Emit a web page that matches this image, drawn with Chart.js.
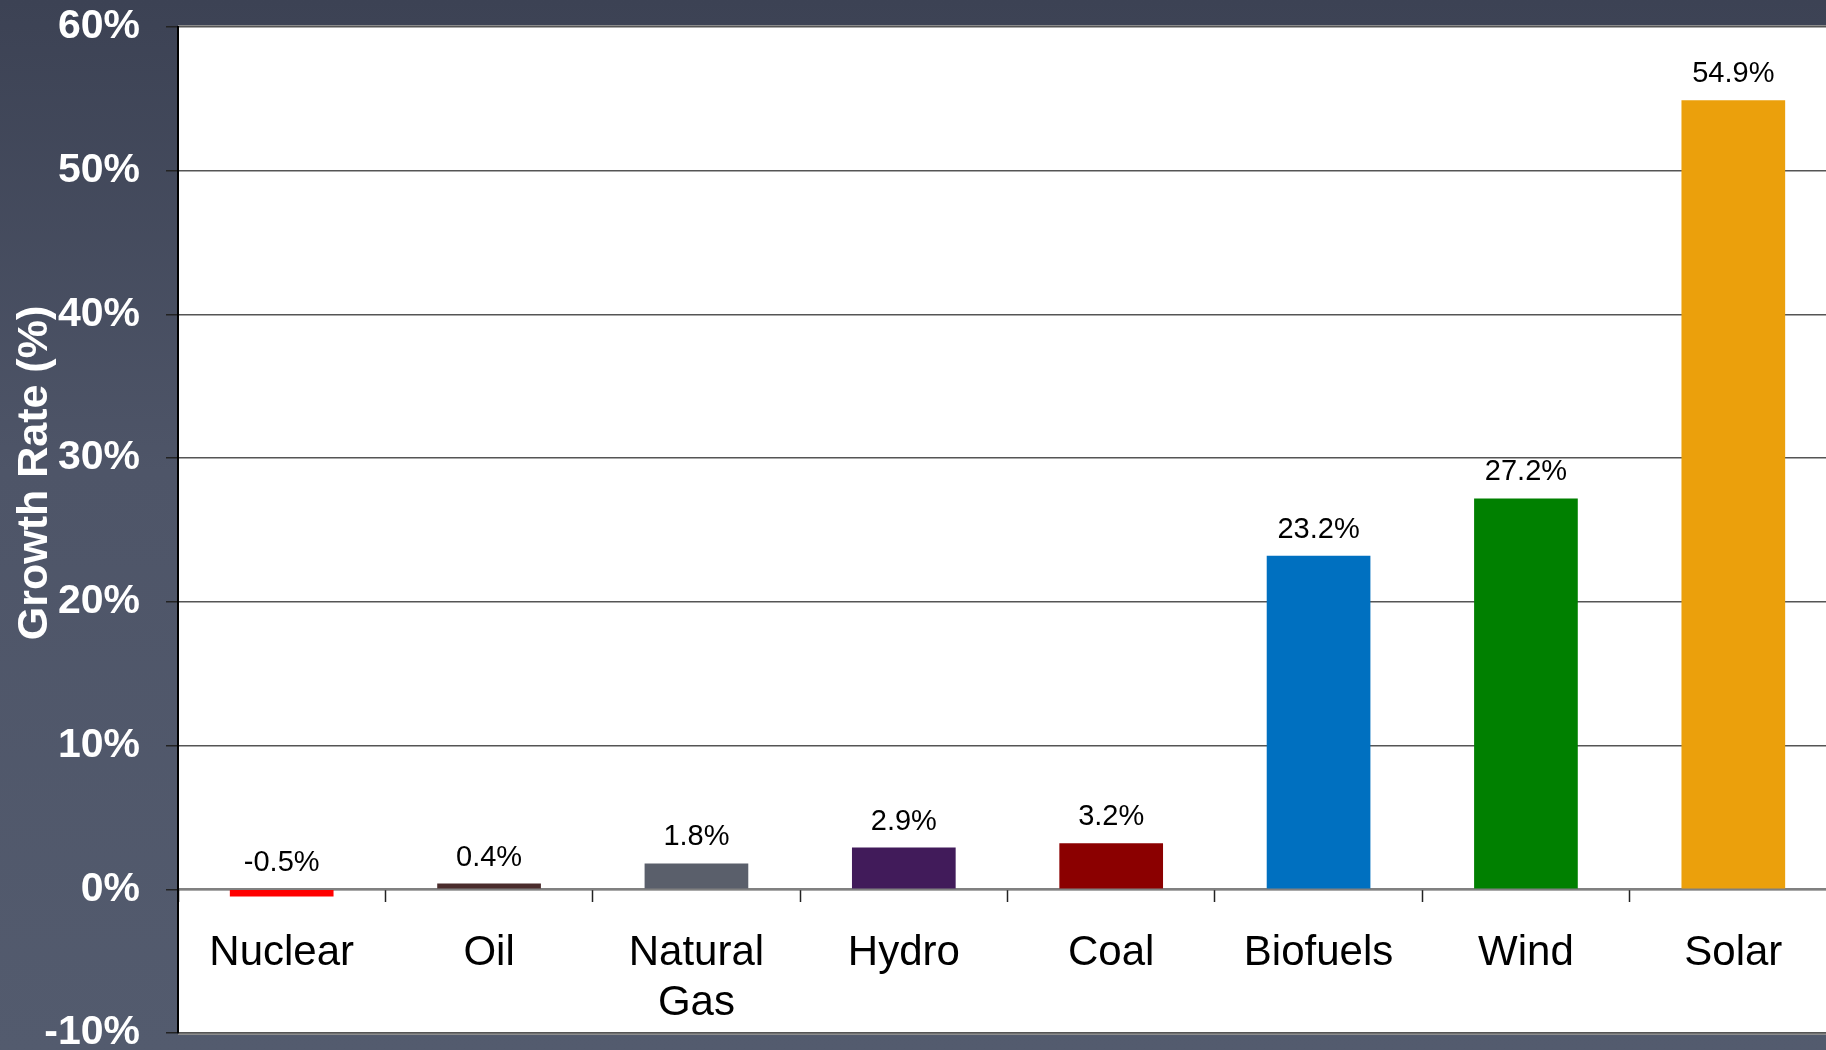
<!DOCTYPE html>
<html>
<head>
<meta charset="utf-8">
<script src="https://cdn.jsdelivr.net/npm/chart.js@4.4.1/dist/chart.umd.min.js"></script>
<style>
  html, body { margin: 0; padding: 0; background: #3e4456; overflow: hidden; }
  /* plot box runs a little past the right edge of the window, as in the source slide */
  #wrap { width: 1837px; height: 1050px; }
</style>
</head>
<body>
<div id="wrap"><canvas id="growth-chart"></canvas></div>
<script>
// data
var categories = ["Nuclear", "Oil", ["Natural", "Gas"], "Hydro", "Coal", "Biofuels", "Wind", "Solar"];
var growthRates = [-0.5, 0.4, 1.8, 2.9, 3.2, 23.2, 27.2, 54.9];
var barColors = ["#ff0000", "#4a2c2c", "#5a5f6b", "#411b5a", "#8b0000", "#0070c0", "#008000", "#eba00c"];
var yTickValues = [-10, 0, 10, 20, 30, 40, 50, 60];
var yTitle = "Growth Rate (%)";

var FONT = "'Liberation Sans', Arial, sans-serif";

var backdrop = {
    id: 'backdrop',
    beforeDraw: function (chart) {
        var c = chart.ctx, a = chart.chartArea;
        c.save();
        var g = c.createLinearGradient(0, 0, 0, chart.height);
        g.addColorStop(0, '#3c4254');
        g.addColorStop(0.45, '#4e5568');
        g.addColorStop(1, '#535b6e');
        c.fillStyle = g;
        c.fillRect(0, 0, chart.width, chart.height);
        c.fillStyle = '#ffffff';
        c.fillRect(a.left, a.top, a.right - a.left, a.bottom - a.top);
        // soft edge lines on top and bottom of the plot box
        c.fillStyle = '#8c8c8c';
        c.fillRect(a.left, a.top - 2, a.right - a.left, 2);
        c.fillRect(a.left, a.bottom, a.right - a.left, 2);
        c.restore();
    },
    afterDraw: function (chart) {
        var c = chart.ctx;
        var x = chart.scales.x, y = chart.scales.y;
        c.save();
        // value labels above each bar
        c.fillStyle = '#000';
        c.font = '29px ' + FONT;
        c.textAlign = 'center';
        c.textBaseline = 'middle';
        growthRates.forEach(function (v, i) {
            var top = y.getPixelForValue(Math.max(v, 0));
            c.fillText(v.toFixed(1) + '%', x.getPixelForValue(i), top - 26);
        });
        // rotated axis title
        c.translate(35, 473);
        c.rotate(-Math.PI / 2);
        c.fillStyle = '#fff';
        c.font = 'bold 43px ' + FONT;
        c.fillText(yTitle, 0, 0);
        c.restore();
    }
};

var ctx = document.getElementById('growth-chart');

var growthChart = new Chart(ctx, {
    type: 'bar',
    data: {
        labels: categories,
        datasets: [
            {
                label: 'Growth Rate',
                data: growthRates,
                backgroundColor: barColors,
                borderWidth: 0,
                categoryPercentage: 1,
                barPercentage: 0.5
            }
        ]
    },
    options: {
        responsive: true,
        maintainAspectRatio: false,
        animation: false,
        layout: { padding: { top: 27, bottom: 17, left: 0, right: 0 } },
        plugins: {
            legend: { display: false },
            tooltip: { enabled: false }
        },
        scales: {
            x: {
                position: { y: 0 },
                grid: {
                    offset: true,
                    drawOnChartArea: false,
                    drawTicks: true,
                    tickLength: 12,
                    tickColor: '#222',
                    tickWidth: 1.5
                },
                border: { color: '#808080', width: 2 },
                ticks: {
                    color: '#000',
                    font: { family: FONT, size: 42, lineHeight: 1.2 },
                    padding: 27,
                    maxRotation: 0,
                    autoSkip: false
                }
            },
            y: {
                min: -10,
                max: 60,
                afterBuildTicks: function (scale) {
                    scale.ticks = yTickValues.map(function (v) { return { value: v }; });
                },
                afterFit: function (scale) {
                    scale.width = 178;
                    scale.paddingTop = 0;
                    scale.paddingBottom = 0;
                },
                grid: {
                    color: '#555',
                    lineWidth: 1.5,
                    tickLength: 12,
                    tickColor: '#222'
                },
                border: { color: '#000', width: 2 },
                ticks: {
                    color: '#fff',
                    padding: 26,
                    font: { family: FONT, size: 41, weight: 'bold', lineHeight: 0.8 },
                    callback: function (v) { return v + '%'; }
                }
            }
        }
    },
    plugins: [backdrop]
});
</script>
</body>
</html>
